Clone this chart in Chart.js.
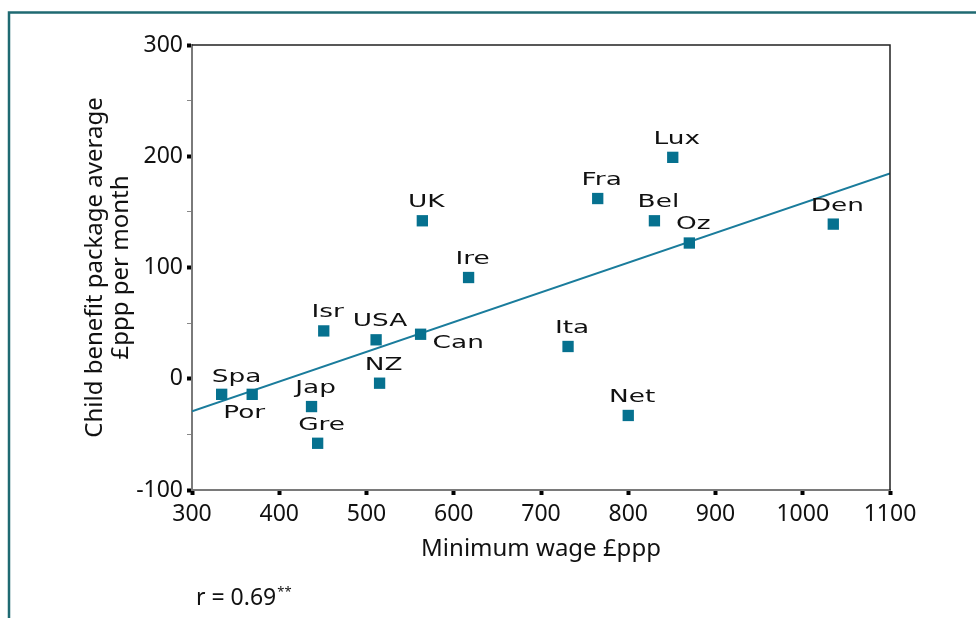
<!DOCTYPE html>
<html>
<head>
<meta charset="utf-8">
<title>Minimum wage and child benefit</title>
<script src="https://cdn.jsdelivr.net/npm/chart.js@4.4.1/dist/chart.umd.min.js"></script>
<style>
  html, body { margin: 0; padding: 0; background: #fff; }
  #wrap { width: 976px; height: 618px; }
</style>
</head>
<body>
<div id="wrap"><canvas id="scatter" width="976" height="618"></canvas></div>
<script>
// countries, minimum wage (£ppp) and child benefit package (£ppp per month)
const countries = ['Spa', 'Por', 'Jap', 'Gre', 'Isr', 'USA', 'NZ', 'Can', 'UK', 'Ire', 'Ita', 'Net', 'Fra', 'Bel', 'Lux', 'Oz', 'Den']
const minWage = [334, 369, 437, 444, 451, 511, 515, 562, 564, 617, 731, 800, 765, 830, 851, 870, 1035]
const childBenefit = [-14, -14, -25, -58, 43, 35, -4, 40, 142, 91, 29, -33, 162, 142, 199, 122, 139]
// where each name sits next to its marker
const labelSide = ['ne', 'sw', 'n', 'n', 'n', 'n', 'n', 'e', 'n', 'n', 'n', 'n', 'n', 'n', 'n', 'n', 'n']

const xTicks = [300, 400, 500, 600, 700, 800, 900, 1000, 1100]
const yTicks = [-100, 0, 100, 200, 300]
const rText = 'r = 0.69'

const teal = '#06718f'
const frame = '#1f6a72'

// least squares fit through the points
function fitLine(xs, ys) {
    const n = xs.length
    const mx = xs.reduce((a, b) => a + b, 0) / n
    const my = ys.reduce((a, b) => a + b, 0) / n
    let sxy = 0, sxx = 0
    for (let i = 0; i < n; i++) {
        sxy += (xs[i] - mx) * (ys[i] - my)
        sxx += (xs[i] - mx) * (xs[i] - mx)
    }
    const slope = sxy / sxx
    return x => my + slope * (x - mx)
}
const fit = fitLine(minWage, childBenefit)
const xMin = xTicks[0], xMax = xTicks[xTicks.length - 1]

const points = minWage.map((x, i) => ({ x: x, y: childBenefit[i] }))
const trend = [{ x: xMin, y: fit(xMin) }, { x: xMax, y: fit(xMax) }]

const decorations = {
    id: 'decorations',
    beforeDraw(chart) {
        const ctx = chart.ctx
        ctx.save()
        ctx.strokeStyle = frame
        ctx.lineWidth = 2.5
        ctx.beginPath()
        ctx.moveTo(9, 618)
        ctx.lineTo(9, 12.5)
        ctx.lineTo(976, 12.5)
        ctx.stroke()
        ctx.restore()
    },
    afterDraw(chart) {
        const ctx = chart.ctx
        const a = chart.chartArea
        ctx.save()
        // top and right edges of the plot box
        ctx.strokeStyle = '#222'
        ctx.lineWidth = 1.5
        ctx.beginPath()
        ctx.moveTo(a.left, a.top)
        ctx.lineTo(a.right, a.top)
        ctx.lineTo(a.right, a.bottom)
        ctx.stroke()

        // country names
        const meta = chart.getDatasetMeta(0)
        ctx.fillStyle = '#111'
        ctx.font = '17px "DejaVu Sans"'
        ctx.textBaseline = 'middle'
        const stretch = 1.55
        meta.data.forEach((el, i) => {
            const side = labelSide[i]
            let tx = el.x, ty = el.y, align = 'center'
            if (side === 'n') { tx += 4; ty -= 18 }
            else if (side === 'ne') { tx += 15; ty -= 17 }
            else if (side === 'sw') { tx -= 8; ty += 19 }
            else if (side === 'e') { tx += 12; ty += 9; align = 'left' }
            ctx.save()
            ctx.translate(tx, ty)
            ctx.scale(stretch, 1)
            ctx.textAlign = align
            ctx.fillText(countries[i], 0, 0)
            ctx.restore()
        })

        // correlation note
        ctx.fillStyle = '#111'
        ctx.textAlign = 'left'
        ctx.textBaseline = 'alphabetic'
        ctx.font = '23px "Noto Sans"'
        ctx.fillText(rText, 196, 605)
        const w = ctx.measureText(rText).width
        ctx.font = '13px "Noto Sans"'
        ctx.fillText('**', 196 + w + 1, 596)
        ctx.restore()
    }
}

new Chart(document.getElementById('scatter'), {
    type: 'scatter',
    data: {
        datasets: [{
            data: points,
            pointStyle: 'rect',
            pointRadius: 8,
            pointHoverRadius: 8,
            backgroundColor: teal,
            borderWidth: 0,
            order: 1
        }, {
            type: 'line',
            data: trend,
            borderColor: '#1a7c9c',
            borderWidth: 2,
            pointRadius: 0,
            fill: false,
            order: 2
        }]
    },
    options: {
        responsive: false,
        animation: false,
        events: [],
        layout: { padding: { top: 45, right: 86, bottom: 0, left: 0 } },
        plugins: { legend: { display: false }, tooltip: { enabled: false } },
        scales: {
            x: {
                type: 'linear',
                min: xMin,
                max: xMax,
                afterBuildTicks(scale) { scale.ticks = xTicks.map(v => ({ value: v })) },
                afterFit(scale) { scale.height = 128 },
                border: { color: '#7a7a7a', width: 2 },
                grid: {
                    drawOnChartArea: false,
                    tickLength: 5,
                    tickWidth: 4,
                    tickColor: '#000'
                },
                ticks: {
                    color: '#111',
                    padding: 6,
                    font: { family: 'Noto Sans', size: 23 },
                    callback: v => String(v)
                },
                title: {
                    display: true,
                    text: 'Minimum wage £ppp',
                    color: '#111',
                    font: { family: 'Noto Sans', size: 24, lineHeight: 1.2 },
                    padding: { top: 0, bottom: 54 }
                }
            },
            y: {
                type: 'linear',
                min: yTicks[0],
                max: yTicks[yTicks.length - 1],
                afterBuildTicks(scale) {
                    const t = []
                    for (let v = yTicks[0]; v <= yTicks[yTicks.length - 1]; v += 50) t.push({ value: v })
                    scale.ticks = t
                },
                afterFit(scale) { scale.width = 192 },
                border: { color: '#7a7a7a', width: 2 },
                grid: {
                    drawOnChartArea: false,
                    tickLength: 5,
                    tickWidth: c => (yTicks.includes(c.tick.value) ? 4 : 1),
                    tickColor: c => (yTicks.includes(c.tick.value) ? '#000' : '#888')
                },
                ticks: {
                    color: '#111',
                    padding: 4,
                    font: { family: 'Noto Sans', size: 23 },
                    callback: v => (yTicks.includes(v) ? String(v) : '')
                },
                title: {
                    display: true,
                    text: ['Child benefit package average', '£ppp per month'],
                    color: '#111',
                    font: { family: 'Noto Sans', size: 24, lineHeight: 1.1 },
                    padding: { top: 82, bottom: 0 }
                }
            }
        }
    },
    plugins: [decorations]
})
</script>
</body>
</html>
